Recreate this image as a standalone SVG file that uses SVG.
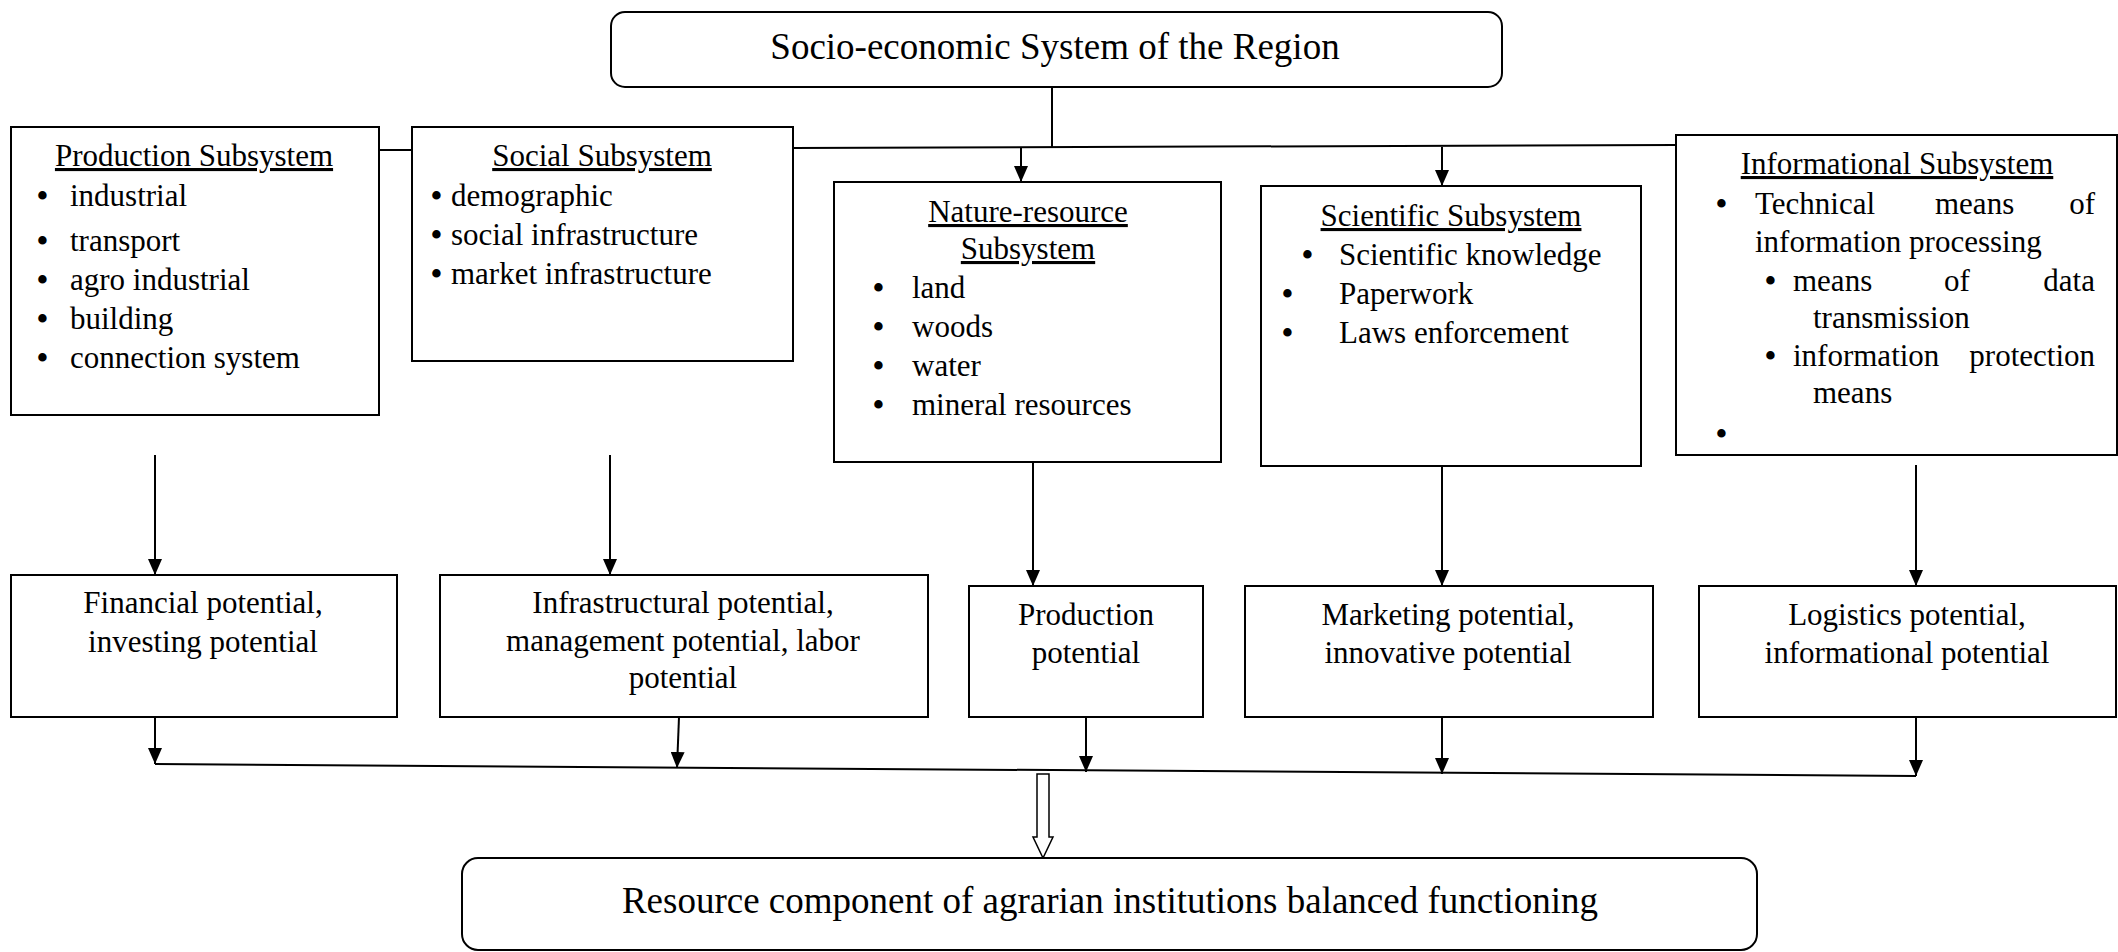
<svg xmlns="http://www.w3.org/2000/svg" width="2118" height="952" viewBox="0 0 2118 952">
<style>
.box{fill:#fff;stroke:#000;stroke-width:2}
.t{font-family:"Liberation Serif","Times New Roman",serif;font-size:31px;fill:#000}
.big{font-family:"Liberation Serif","Times New Roman",serif;font-size:37px;fill:#000}
.b{font-weight:bold}
.c{text-anchor:middle}
.e{text-anchor:end}
.u{text-decoration:underline}
.ln{fill:none;stroke:#000;stroke-width:2}
.ar{fill:none;stroke:#000;stroke-width:2;marker-end:url(#ah)}
</style>
<defs>
<marker id="ah" viewBox="0 0 16 14" markerWidth="16" markerHeight="14" refX="16" refY="7" orient="auto" markerUnits="userSpaceOnUse">
<path d="M0,0 L16,7 L0,14 z" fill="#000"/>
</marker>
</defs>
<rect width="2118" height="952" fill="#fff"/>

<g id="connectors">
<line class="ln" x1="1052" y1="87" x2="1052" y2="148"/>
<line class="ln" x1="379" y1="150" x2="412" y2="150"/>
<line class="ln" x1="793" y1="148" x2="1676" y2="145"/>
<line class="ar" x1="1021" y1="148" x2="1021" y2="182"/>
<line class="ar" x1="1442" y1="147" x2="1442" y2="186"/>
<line class="ar" x1="155" y1="455" x2="155" y2="575"/>
<line class="ar" x1="610" y1="455" x2="610" y2="575"/>
<line class="ar" x1="1033" y1="455" x2="1033" y2="586"/>
<line class="ar" x1="1442" y1="460" x2="1442" y2="586"/>
<line class="ar" x1="1916" y1="465" x2="1916" y2="586"/>
<line class="ar" x1="155" y1="717" x2="155" y2="764"/>
<line class="ar" x1="679" y1="717" x2="677" y2="768"/>
<line class="ar" x1="1086" y1="717" x2="1086" y2="772"/>
<line class="ar" x1="1442" y1="717" x2="1442" y2="774"/>
<line class="ar" x1="1916" y1="717" x2="1916" y2="776"/>
<line class="ln" x1="155" y1="764" x2="1916" y2="776"/>
<path d="M1037,774 L1049,774 L1049,837 L1053,837 L1043,858 L1033,837 L1037,837 Z" fill="#fff" stroke="#000" stroke-width="1.5"/>
</g>

<g id="top">
<rect class="box" x="611" y="12" width="891" height="75" rx="14"/>
<text class="big c" x="1055" y="59">Socio-economic System of the Region</text>
</g>

<g id="production">
<rect class="box" x="11" y="127" width="368" height="288"/>
<text class="t c u" x="194" y="166">Production Subsystem</text>
<g class="t">
<text class="b" x="37" y="206">•</text><text x="70" y="206">industrial</text>
<text class="b" x="37" y="251">•</text><text x="70" y="251">transport</text>
<text class="b" x="37" y="290">•</text><text x="70" y="290">agro industrial</text>
<text class="b" x="37" y="329">•</text><text x="70" y="329">building</text>
<text class="b" x="37" y="368">•</text><text x="70" y="368">connection system</text>
</g>
</g>

<g id="social">
<rect class="box" x="412" y="127" width="381" height="234"/>
<text class="t c u" x="602" y="166">Social Subsystem</text>
<g class="t">
<text class="b" x="431" y="206">•</text><text x="451" y="206">demographic</text>
<text class="b" x="431" y="245">•</text><text x="451" y="245">social infrastructure</text>
<text class="b" x="431" y="284">•</text><text x="451" y="284">market infrastructure</text>
</g>
</g>

<g id="nature">
<rect class="box" x="834" y="182" width="387" height="280"/>
<text class="t c u" x="1028" y="222">Nature-resource</text>
<text class="t c u" x="1028" y="259">Subsystem</text>
<g class="t">
<text class="b" x="873" y="298">•</text><text x="912" y="298">land</text>
<text class="b" x="873" y="337">•</text><text x="912" y="337">woods</text>
<text class="b" x="873" y="376">•</text><text x="912" y="376">water</text>
<text class="b" x="873" y="415">•</text><text x="912" y="415">mineral resources</text>
</g>
</g>

<g id="scientific">
<rect class="box" x="1261" y="186" width="380" height="280"/>
<text class="t c u" x="1451" y="226">Scientific Subsystem</text>
<g class="t">
<text class="b" x="1302" y="265">•</text><text x="1339" y="265">Scientific knowledge</text>
<text class="b" x="1282" y="304">•</text><text x="1339" y="304">Paperwork</text>
<text class="b" x="1282" y="343">•</text><text x="1339" y="343">Laws enforcement</text>
</g>
</g>

<g id="informational">
<rect class="box" x="1676" y="135" width="441" height="320"/>
<text class="t c u" x="1897" y="174">Informational Subsystem</text>
<g class="t">
<text class="b" x="1716" y="214">•</text><text x="1755" y="214">Technical</text><text x="1935" y="214">means</text><text class="e" x="2095" y="214">of</text>
<text x="1755" y="252">information processing</text>
<text class="b" x="1765" y="291">•</text><text x="1793" y="291">means</text><text x="1944" y="291">of</text><text class="e" x="2095" y="291">data</text>
<text x="1813" y="328">transmission</text>
<text class="b" x="1765" y="366">•</text><text x="1793" y="366">information</text><text class="e" x="2095" y="366">protection</text>
<text x="1813" y="403">means</text>
<text class="b" x="1716" y="444">•</text>
</g>
</g>

<g id="financial">
<rect class="box" x="11" y="575" width="386" height="142"/>
<text class="t c" x="203" y="613">Financial potential,</text>
<text class="t c" x="203" y="652">investing potential</text>
</g>

<g id="infrastructural">
<rect class="box" x="440" y="575" width="488" height="142"/>
<text class="t c" x="683" y="613">Infrastructural potential,</text>
<text class="t c" x="683" y="651">management potential, labor</text>
<text class="t c" x="683" y="688">potential</text>
</g>

<g id="productionpotential">
<rect class="box" x="969" y="586" width="234" height="131"/>
<text class="t c" x="1086" y="625">Production</text>
<text class="t c" x="1086" y="663">potential</text>
</g>

<g id="marketing">
<rect class="box" x="1245" y="586" width="408" height="131"/>
<text class="t c" x="1448" y="625">Marketing potential,</text>
<text class="t c" x="1448" y="663">innovative potential</text>
</g>

<g id="logistics">
<rect class="box" x="1699" y="586" width="417" height="131"/>
<text class="t c" x="1907" y="625">Logistics potential,</text>
<text class="t c" x="1907" y="663">informational potential</text>
</g>

<g id="result">
<rect class="box" x="462" y="858" width="1295" height="92" rx="16"/>
<text class="big c" x="1110" y="913">Resource component of agrarian institutions balanced functioning</text>
</g>
</svg>
